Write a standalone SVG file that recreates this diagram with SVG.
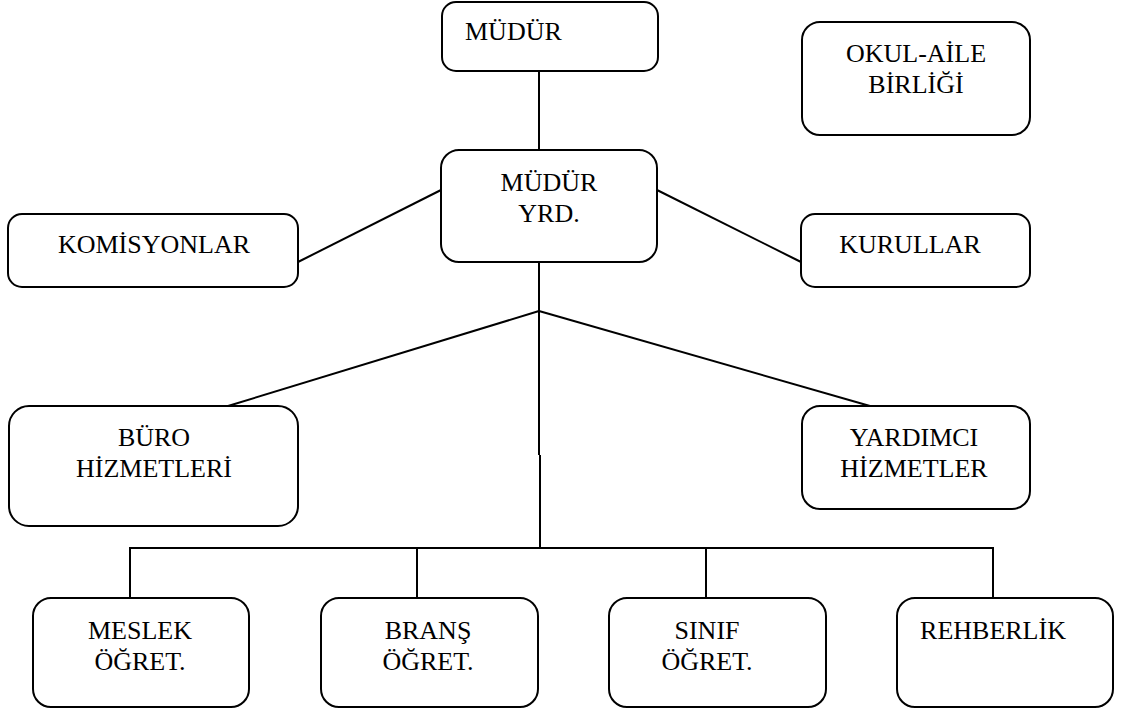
<svg xmlns="http://www.w3.org/2000/svg" width="1137" height="713" viewBox="0 0 1137 713">
<style>
.box{fill:#fff;stroke:#000;stroke-width:2}
.t{font-family:"Liberation Serif","Times New Roman",serif;font-size:26px;fill:#000;text-anchor:middle}
.c{fill:none;stroke:#000;stroke-width:2}
</style>
<rect width="1137" height="713" fill="#fff"/>
<g id="connectors">
<line class="c" x1="539" y1="71" x2="539" y2="150"/>
<line class="c" x1="539" y1="262" x2="539" y2="455"/>
<line class="c" x1="540" y1="455" x2="540" y2="548"/>
<line class="c" x1="441" y1="190" x2="298" y2="262"/>
<line class="c" x1="657" y1="190" x2="801" y2="262"/>
<line class="c" x1="539" y1="311" x2="228" y2="406"/>
<line class="c" x1="539" y1="311" x2="870" y2="406"/>
<polyline class="c" points="130,598 130,548 993,548 993,598"/>
<line class="c" x1="417" y1="548" x2="417" y2="598"/>
<line class="c" x1="706" y1="548" x2="706" y2="598"/>
</g>
<g id="mudur"><rect class="box" x="442" y="2" width="216" height="69" rx="14"/><text class="t" x="465" y="40" style="text-anchor:start">MÜDÜR</text></g>
<g id="okul-aile"><rect class="box" x="802" y="22" width="228" height="113" rx="18"/><text class="t" x="916" y="62">OKUL-AİLE</text><text class="t" x="916" y="93">BİRLİĞİ</text></g>
<g id="mudur-yrd"><rect class="box" x="441" y="150" width="216" height="112" rx="18"/><text class="t" x="549" y="191">MÜDÜR</text><text class="t" x="549" y="222">YRD.</text></g>
<g id="komisyonlar"><rect class="box" x="8" y="214" width="290" height="73" rx="14"/><text class="t" x="154" y="253">KOMİSYONLAR</text></g>
<g id="kurullar"><rect class="box" x="801" y="214" width="229" height="73" rx="14"/><text class="t" x="910" y="253">KURULLAR</text></g>
<g id="buro"><rect class="box" x="9" y="406" width="289" height="120" rx="20"/><text class="t" x="154" y="446">BÜRO</text><text class="t" x="154" y="477">HİZMETLERİ</text></g>
<g id="yardimci"><rect class="box" x="802" y="406" width="228" height="103" rx="18"/><text class="t" x="914" y="446">YARDIMCI</text><text class="t" x="914" y="477">HİZMETLER</text></g>
<g id="meslek"><rect class="box" x="33" y="598" width="216" height="109" rx="18"/><text class="t" x="140" y="639">MESLEK</text><text class="t" x="140" y="670">ÖĞRET.</text></g>
<g id="brans"><rect class="box" x="321" y="598" width="217" height="109" rx="18"/><text class="t" x="428" y="639">BRANŞ</text><text class="t" x="428" y="670">ÖĞRET.</text></g>
<g id="sinif"><rect class="box" x="609" y="598" width="217" height="109" rx="18"/><text class="t" x="707" y="639">SINIF</text><text class="t" x="707" y="670">ÖĞRET.</text></g>
<g id="rehberlik"><rect class="box" x="897" y="598" width="216" height="109" rx="18"/><text class="t" x="993" y="639">REHBERLİK</text></g>
</svg>
